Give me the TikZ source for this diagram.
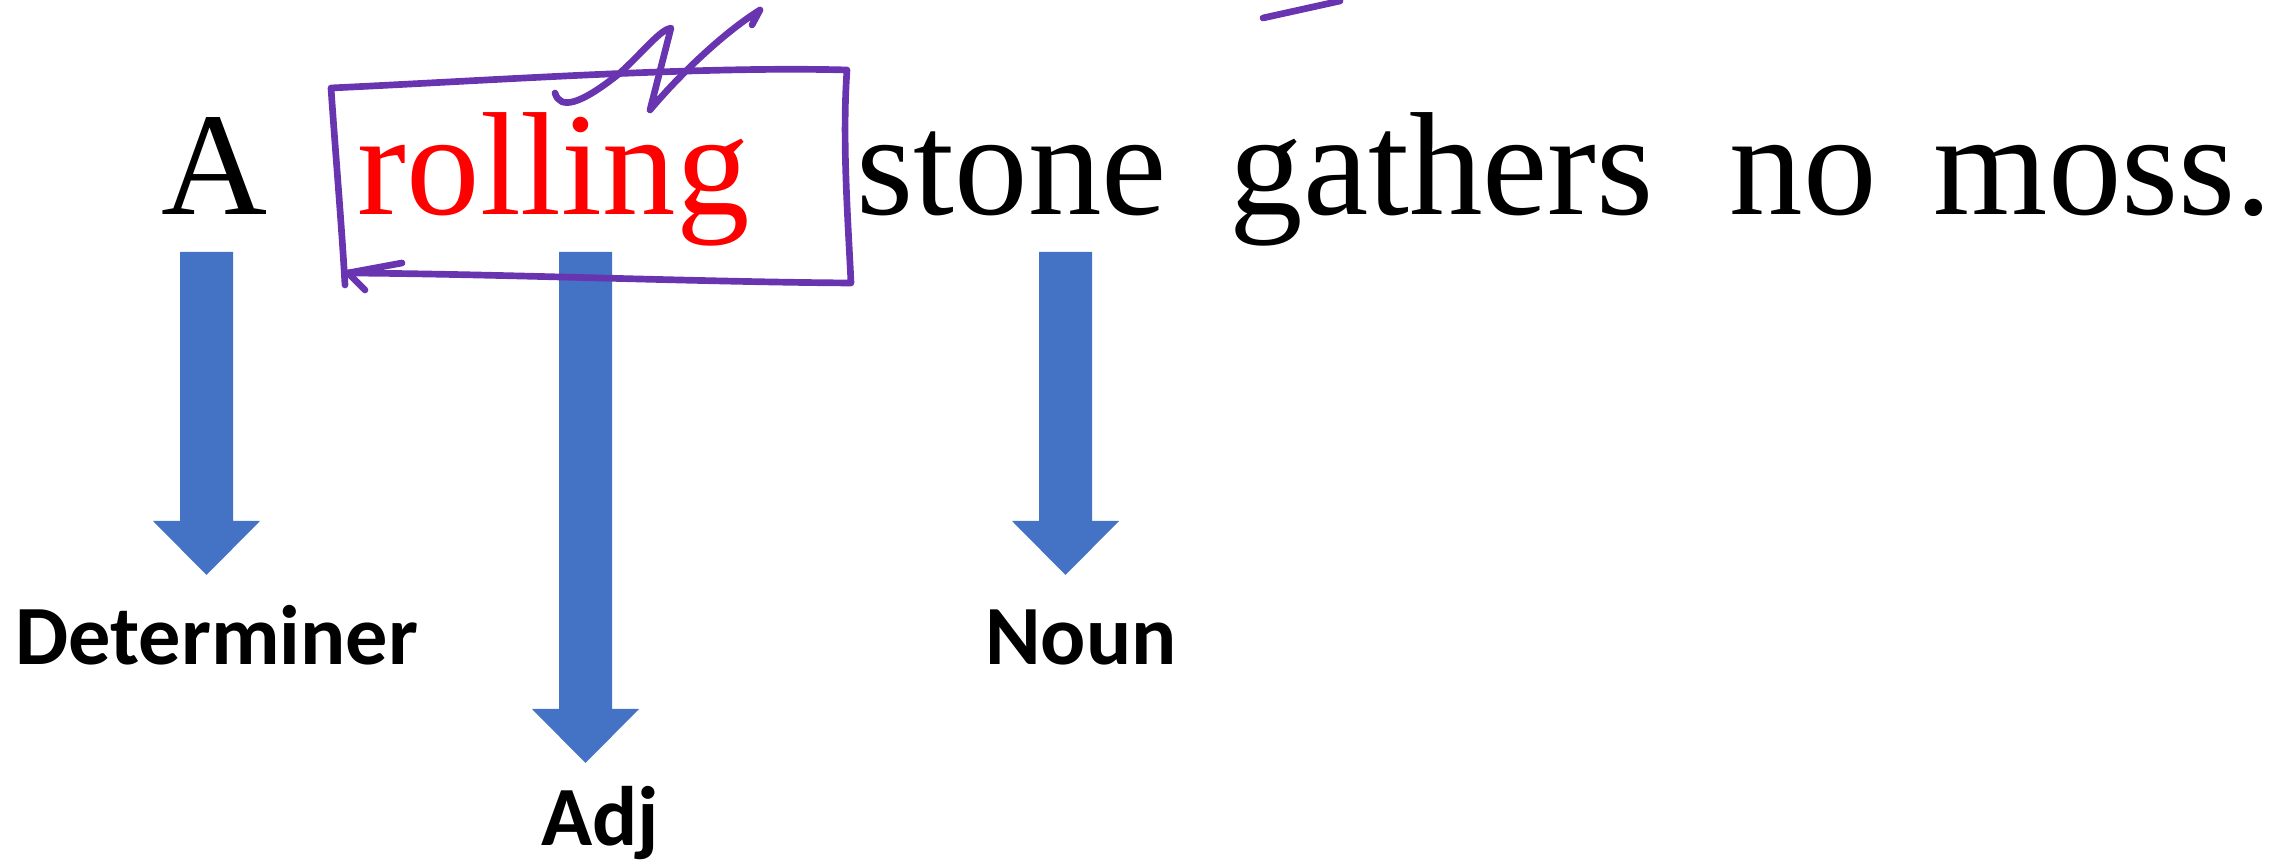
\documentclass[tikz,border=0pt]{standalone}
\usepackage{fontspec}
\setmainfont{Liberation Serif}
\newfontfamily\labelfont{Carlito}
\usetikzlibrary{calc}
\definecolor{arrowblue}{RGB}{68,114,196}
\definecolor{inkpurple}{RGB}{104,52,176}
\definecolor{wordred}{RGB}{255,0,0}
\tikzset{
  word/.style={anchor=base west, inner sep=0pt, font=\fontsize{41.8}{50}\selectfont},
  tag/.style={anchor=base, inner sep=0pt, font=\labelfont\bfseries\fontsize{24}{29}\selectfont},
  ink/.style={draw=inkpurple, line width=1.9pt, line cap=round, line join=round},
}
\newcommand\blockarr[2]{%
  \fill[arrowblue] ($(#1)+(-0.265,0)$) -- ($(#2)+(-0.265,0.54)$) -- ($(#2)+(-0.535,0.54)$) -- (#2)
    -- ($(#2)+(0.535,0.54)$) -- ($(#2)+(0.265,0.54)$) -- ($(#1)+(0.265,0)$) -- cycle;}
\begin{document}
\begin{tikzpicture}
\useasboundingbox (0,0) rectangle (22.85,-8.67);
% sentence
\node[word] (wA) at (1.61,-2.15) {A};
\node[word, text=wordred] (wrolling) at (3.57,-2.15) {rolling};
\node[word] (wstone) at (8.56,-2.15) {stone};
\node[word] (wgathers) at (12.29,-2.15) {gathers};
\node[word] (wno) at (17.29,-2.15) {no};
\node[word] (wmoss) at (19.33,-2.15) {moss.};
% labels
\node[tag] (lDet) at (2.17,-6.65) {Determiner};
\node[tag] (lNoun) at (10.81,-6.65) {Noun};
\node[tag] (lAdj) at (6.00,-8.46) {Adj};
% arrow ends
\coordinate (dTop) at (2.065,-2.52);
\coordinate (dTip) at (2.065,-5.75);
\coordinate (aTop) at (5.855,-2.52);
\coordinate (aTip) at (5.855,-7.63);
\coordinate (nTop) at (10.655,-2.52);
\coordinate (nTip) at (10.655,-5.75);
\blockarr{dTop}{dTip}
\blockarr{aTop}{aTip}
\blockarr{nTop}{nTip}
% hand-drawn box around "rolling"
\coordinate (bTip) at (3.48,-2.73);
\draw[ink] (3.45,-2.85) .. controls (3.42,-2.30) and (3.36,-1.60) .. (3.31,-0.88)
  .. controls (5.00,-0.80) and (7.00,-0.66) .. (8.47,-0.70)
  .. controls (8.42,-1.40) and (8.48,-2.20) .. (8.51,-2.83)
  .. controls (7.00,-2.82) and (5.00,-2.74) .. (bTip);
\draw[ink] (4.02,-2.63) -- (bTip) -- (3.65,-2.90);
% squiggle above
\draw[ink] (5.55,-0.93) .. controls (5.60,-1.10) and (5.80,-1.05) .. (6.20,-0.73)
  .. controls (6.45,-0.50) and (6.60,-0.30) .. (6.71,-0.28)
  -- (6.50,-1.10)
  .. controls (6.75,-0.80) and (7.20,-0.35) .. (7.60,-0.10)
  -- (7.52,-0.25);
% scribble at top
\coordinate (sA) at (12.63,-0.18);
\coordinate (sB) at (13.40,-0.01);
\draw[ink] (sA) -- (sB);
\end{tikzpicture}
\end{document}
